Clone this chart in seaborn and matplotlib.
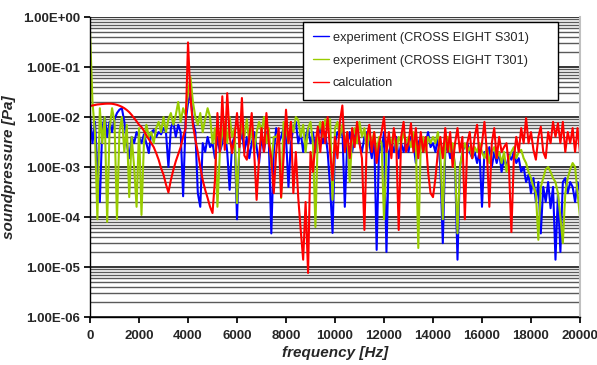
import numpy as np
import pandas as pd
import matplotlib
matplotlib.use("Agg")
import matplotlib.pyplot as plt
import seaborn as sns
from matplotlib.ticker import FixedLocator, FuncFormatter, LogLocator, NullFormatter

# frequency grid [Hz]
freq = list(range(0, 20001, 100))

# experiment (CROSS EIGHT S301) [Pa]
s301 = [
    1e-2, 3e-3, 8e-3, 1e-3, 2e-4, 6e-3, 1e-2, 4e-3, 8e-3, 5e-3,
    9e-3, 1.2e-2, 1.4e-2, 1.5e-2, 8e-3, 3e-3, 1.5e-3, 4e-3, 3e-3, 5e-3,
    4e-3, 3e-3, 4.5e-3, 3e-3, 1.9e-3, 5e-3, 5.5e-3, 4e-3, 5e-3, 4.5e-3,
    6e-3, 5e-3, 1e-3, 6e-3, 8e-3, 4e-3, 7e-3, 5e-3, 2.6e-4, 8e-3,
    1.9e-2, 3e-2, 8e-3, 5e-3, 3e-4, 1.6e-4, 3e-3, 2e-3, 4e-3, 2.5e-3,
    3e-3, 1.5e-3, 4e-3, 2e-3, 3e-3, 6e-3, 2e-3, 3.5e-4, 3e-3, 4e-3,
    9e-5, 3e-3, 5e-3, 2e-3, 4e-3, 1.5e-3, 3e-3, 5e-3, 2.5e-3, 1.2e-3,
    4e-3, 2e-3, 5e-3, 3e-3, 4.7e-5, 2e-3, 6e-3, 3e-3, 4e-3, 6e-3,
    4e-3, 4e-4, 3e-3, 6e-3, 8e-3, 3e-3, 5e-3, 2e-3, 4e-3, 6e-3,
    3e-3, 5e-3, 2e-3, 4e-3, 7e-3, 3e-3, 5e-3, 2e-3, 4e-4, 4.8e-5,
    3e-3, 5e-3, 4e-3, 6e-3, 1.6e-4, 3e-3, 5e-3, 2e-3, 4e-3, 6e-3,
    3e-3, 2e-3, 4e-3, 5e-3, 3e-3, 1.5e-3, 4e-3, 2.2e-5, 3e-3, 2e-3,
    5e-3, 2e-5, 2e-3, 3e-3, 2e-3, 4e-3, 1.5e-3, 3e-3, 2e-3, 3.5e-3,
    2e-3, 4e-3, 3e-3, 1.2e-3, 3e-3, 4e-3, 2e-3, 3e-3, 5e-3, 2.5e-3,
    3e-3, 2e-3, 4e-3, 1e-3, 3e-5, 2e-3, 3e-3, 1.5e-3, 2.5e-3, 1e-3,
    1.4e-5, 1e-3, 2e-3, 2.7e-3, 3e-3, 2e-3, 1.5e-3, 2e-3, 1.2e-3, 2e-3,
    1.6e-4, 2e-3, 1.5e-3, 2.5e-3, 1e-3, 2e-3, 1.2e-3, 2e-3, 8e-4, 1.5e-3,
    1e-3, 1.8e-3, 1.4e-3, 2e-3, 1.2e-3, 1.5e-3, 8e-4, 1e-3, 5e-4, 7e-4,
    3e-4, 6e-4, 2e-4, 5e-4, 4.7e-5, 4e-4, 2e-4, 5e-4, 1.5e-4, 4e-4,
    1.4e-5, 3e-4, 2e-5, 5e-4, 6e-4, 3e-4, 5e-4, 4e-4, 2e-4, 5e-4,
    3e-4,
]

# experiment (CROSS EIGHT T301) [Pa]
t301 = [
    5e-1, 2e-2, 5e-3, 9e-5, 1.5e-2, 3e-3, 1e-2, 8e-5, 6e-3, 1.5e-2,
    8e-3, 9e-5, 5e-3, 1e-2, 2e-3, 7e-3, 2.5e-4, 4e-3, 1e-3, 1.6e-4,
    6e-3, 1.1e-4, 3e-3, 7e-3, 4e-3, 5e-3, 3e-3, 6e-3, 8e-3, 5e-3,
    1e-2, 5e-3, 9e-3, 1.2e-2, 7e-3, 1.1e-2, 2e-2, 8e-3, 1.5e-2, 1.1e-2,
    3e-2, 6.3e-2, 2e-2, 1e-2, 7e-3, 1.2e-2, 5e-3, 9e-3, 1.5e-2, 1e-2,
    3e-3, 6e-3, 1.6e-4, 2e-3, 5e-3, 8e-3, 3e-3, 1e-2, 4e-3, 6e-3,
    1.9e-4, 3e-3, 7e-3, 4e-3, 9e-3, 3e-3, 6e-3, 2e-3, 5e-3, 8e-3,
    5e-3, 1e-2, 3e-3, 6e-3, 1e-3, 4e-3, 4e-3, 5e-3, 2.4e-4, 8e-3,
    6e-3, 3e-3, 8e-3, 5e-3, 1e-2, 8.7e-3, 4e-3, 7e-3, 2e-3, 6e-3,
    8e-3, 3e-3, 6.3e-5, 5e-3, 8e-3, 4e-3, 9e-3, 6e-3, 9e-3, 2.2e-4,
    6e-3, 8e-3, 4e-3, 7e-3, 3e-3, 5e-3, 5e-4, 4e-3, 6e-3, 3e-3,
    8e-3, 4e-3, 6e-3, 2e-3, 5e-3, 3e-3, 5e-3, 2e-3, 4e-3, 3e-3,
    9e-5, 2e-3, 4e-3, 3e-3, 5e-3, 2e-3, 4e-3, 3e-3, 5e-3, 3e-3,
    4e-3, 2.5e-3, 5e-3, 3e-3, 2.4e-5, 3e-3, 4e-3, 2e-3, 4e-3, 3e-3,
    4e-3, 3e-3, 5e-3, 2e-3, 9e-5, 3e-3, 4e-3, 2e-3, 3e-3, 1e-3,
    4.7e-5, 1e-3, 2e-3, 3e-3, 2e-3, 2.5e-3, 1.5e-3, 2.5e-3, 2e-3, 3e-3,
    2e-3, 1.5e-3, 2.5e-3, 1.2e-3, 2e-3, 2.5e-3, 1.5e-3, 2e-3, 1.2e-3, 2e-3,
    8e-4, 1.5e-3, 2e-3, 2.5e-3, 1.5e-3, 2e-3, 2.2e-3, 1.5e-3, 1.2e-3, 8e-4,
    6e-4, 4e-4, 3e-4, 3.5e-5, 4e-4, 6e-4, 9e-4, 1e-3, 8e-4, 6e-4,
    5e-4, 3e-4, 1e-4, 3e-5, 3e-4, 6e-4, 9e-4, 1.2e-3, 1e-3, 3e-4,
    1e-4,
]

# calculation [Pa]
calc = [
    1.66e-2, 1.7e-2, 1.75e-2, 1.78e-2, 1.8e-2, 1.82e-2, 1.84e-2, 1.85e-2, 1.85e-2, 1.84e-2,
    1.8e-2, 1.75e-2, 1.68e-2, 1.6e-2, 1.5e-2, 1.38e-2, 1.25e-2, 1.1e-2, 9.5e-3, 8.2e-3,
    7e-3, 6.3e-3, 5.3e-3, 4.3e-3, 3.6e-3, 3e-3, 2.5e-3, 1.9e-3, 1.4e-3, 9.5e-4,
    7e-4, 4.5e-4, 3.1e-4, 5.5e-4, 8.7e-4, 1.3e-3, 1.8e-3, 2.5e-3, 4e-3, 6e-3,
    3.1e-1, 2.5e-2, 7e-3, 3.5e-3, 2e-3, 1e-3, 5.5e-4, 3.5e-4, 2.4e-4, 1.6e-4,
    1.2e-4, 5.5e-4, 1.2e-2, 2e-3, 2.6e-2, 2.2e-3, 3e-2, 4e-3, 1.9e-3, 4e-3,
    1.2e-2, 2.5e-3, 2.4e-2, 1.7e-3, 1.4e-3, 4e-3, 1.2e-2, 2e-3, 2.2e-4, 1.5e-3,
    6e-3, 2e-3, 1.2e-2, 3e-3, 1.5e-3, 3e-4, 2e-3, 6e-3, 2.5e-4, 1.5e-3,
    1.4e-2, 3e-3, 8e-3, 3e-4, 2e-3, 2.4e-4, 5.5e-5, 1.4e-5, 2e-4, 7.6e-6,
    2e-3, 8e-4, 3e-3, 6.4e-3, 2e-3, 8e-3, 3e-3, 1e-2, 2e-3, 5.5e-4,
    4e-3, 1.5e-3, 8e-3, 1.7e-2, 2e-3, 5e-3, 1.5e-3, 6e-3, 2.5e-3, 8e-3,
    3e-3, 1.5e-3, 5.5e-5, 4e-3, 7e-3, 2e-3, 5e-3, 1.2e-3, 3e-3, 5e-3,
    1e-2, 2e-3, 5e-3, 1.5e-3, 6e-3, 3e-3, 5.5e-5, 4e-3, 8e-3, 2e-3,
    3e-3, 7.5e-3, 2e-3, 6e-3, 1.5e-3, 5e-3, 2e-3, 4e-3, 8e-4, 3e-4,
    2.5e-4, 6e-4, 2e-3, 4e-3, 1.5e-3, 6e-3, 2e-3, 5e-3, 1e-3, 3e-3,
    6e-3, 2e-3, 4e-3, 9e-5, 3e-3, 5e-3, 1.5e-3, 4e-3, 7e-3, 1.5e-3,
    3e-3, 8e-3, 2e-3, 1.6e-4, 3e-3, 6e-3, 1.5e-3, 4e-3, 2e-3, 2.5e-3,
    3e-3, 1e-3, 5e-5, 1.5e-3, 4e-3, 2e-3, 6e-3, 3e-3, 9.5e-3, 3e-3,
    5e-3, 2.2e-3, 1.4e-3, 4e-3, 6.4e-3, 2e-3, 1.5e-3, 5e-3, 3e-3, 8e-3,
    4e-3, 7.5e-3, 3e-3, 8e-3, 2e-3, 5e-3, 3e-3, 6e-3, 2e-3, 6e-3,
    1.9e-3,
]

labels = ["experiment (CROSS EIGHT S301)", "experiment (CROSS EIGHT T301)", "calculation"]
colors = ["#0000ff", "#99cc00", "#ff0000"]
y_ticks = [1e-6, 1e-5, 1e-4, 1e-3, 1e-2, 1e-1, 1e0]
x_ticks = list(range(0, 20001, 2000))

df = pd.concat([
    pd.DataFrame({"frequency": freq, "soundpressure": s301, "series": labels[0]}),
    pd.DataFrame({"frequency": freq, "soundpressure": t301, "series": labels[1]}),
    pd.DataFrame({"frequency": freq, "soundpressure": calc, "series": labels[2]}),
], ignore_index=True)

sns.set_theme(style="white")
plt.rcParams["font.family"] = ["Liberation Sans", "DejaVu Sans"]

fig = plt.figure(figsize=(5.97, 3.65), dpi=100)
ax = fig.add_axes([0.1508, 0.1315, 0.8207, 0.8219])

ax.set_yscale("log")
ax.set_ylim(1e-6, 1e0)
ax.set_xlim(0, 20000)

# grid lines (minor then major)
ax.yaxis.set_minor_locator(LogLocator(base=10, subs=np.arange(2, 10), numticks=20))
ax.yaxis.set_minor_formatter(NullFormatter())
ax.grid(which="minor", axis="y", color="#5a5a5a", linewidth=1.0)
ax.grid(which="major", axis="y", color="black", linewidth=1.1)
ax.grid(which="both", axis="x", visible=False)
ax.set_axisbelow(True)

sns.lineplot(data=df, x="frequency", y="soundpressure", hue="series",
             palette=dict(zip(labels, colors)), estimator=None, sort=False,
             linewidth=1.5, ax=ax, legend=True)

ax.yaxis.set_major_locator(FixedLocator(y_ticks))
ax.yaxis.set_major_formatter(FuncFormatter(lambda v, p: "{:.2E}".format(v)))
ax.set_xticks(x_ticks)
ax.set_xticklabels([str(t) for t in x_ticks])

for lab in ax.get_yticklabels() + ax.get_xticklabels():
    lab.set_fontweight("bold")
    lab.set_fontsize(9.5)

ax.tick_params(axis="y", which="major", length=4, color="black", direction="out", left=True, pad=3)
ax.tick_params(axis="y", which="minor", length=0)
ax.tick_params(axis="x", which="major", length=4, color="black", direction="out", bottom=True, pad=5)

ax.set_xlabel("frequency [Hz]", fontsize=11, fontweight="bold", fontstyle="italic", labelpad=3)
ax.set_ylabel("soundpressure [Pa]", fontsize=11, fontweight="bold", fontstyle="italic", labelpad=5)

for side in ["left", "bottom"]:
    ax.spines[side].set_color("black")
    ax.spines[side].set_linewidth(1.0)
ax.spines["top"].set_visible(False)
ax.spines["right"].set_color("#c0c0c0")
ax.spines["right"].set_linewidth(1.5)

handles, _ = ax.get_legend_handles_labels()
leg = ax.legend(handles=handles, labels=labels, loc="upper left",
                bbox_to_anchor=(0.435, 0.72, 0.52, 0.265), mode="expand",
                frameon=True, fancybox=False,
                edgecolor="black", framealpha=1.0, fontsize=9.2,
                handlelength=1.2, handletextpad=0.3, labelspacing=0.85,
                borderpad=0.8, borderaxespad=0.0)
leg.get_frame().set_linewidth(1.0)
for h in leg.get_lines():
    h.set_linewidth(1.0)

fig.savefig("out.png", dpi=100, facecolor="white")
